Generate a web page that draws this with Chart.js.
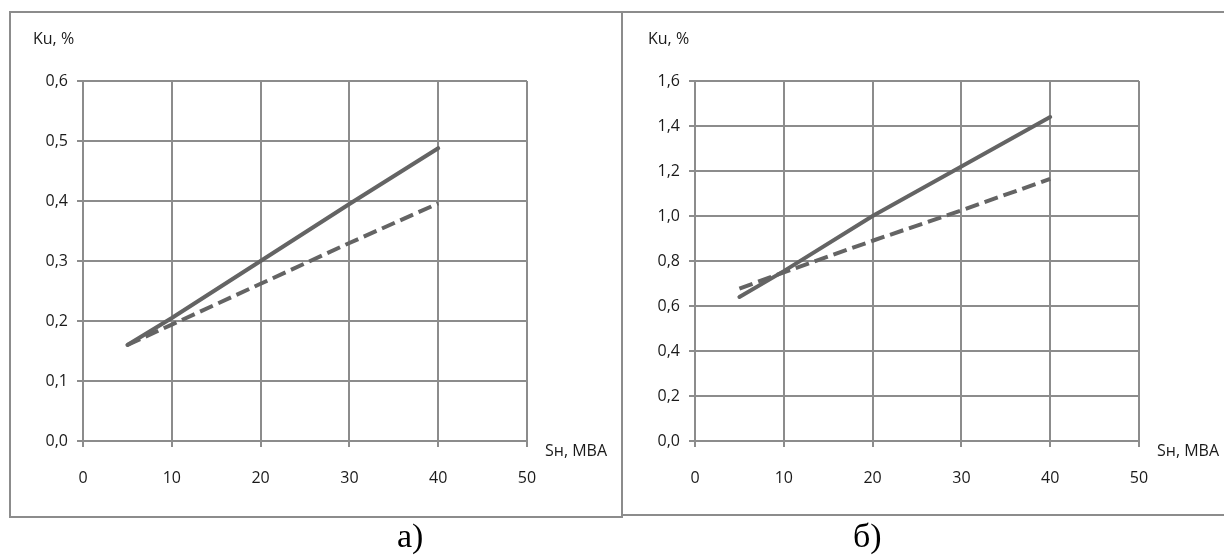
<!DOCTYPE html>
<html lang="ru">
<head>
  <meta charset="UTF-8" />
  <title>Ku(Sн)</title>
  <script src="https://cdn.jsdelivr.net/npm/chart.js"></script>
  <style>
    body {
      margin: 0;
      width: 1224px;
      height: 555px;
      background: #fff;
      position: relative;
      overflow: hidden;
      font-family: 'Open Sans', sans-serif;
    }
    .frame {
      position: absolute;
      border: 2px solid #8c8c8c;
      box-sizing: border-box;
    }
    .chart-box {
      position: absolute;
      top: 0;
      width: 612px;
      height: 555px;
    }
    .label {
      position: absolute;
      font-size: 16px;
      color: #1a1a1a;
      white-space: nowrap;
      line-height: 20px;
    }
    .caption {
      position: absolute;
      font-family: 'Liberation Serif', serif;
      font-size: 34px;
      color: #000;
      line-height: 34px;
    }
  </style>
</head>
<body>
  <div class="frame" style="left:9px; top:11px; width:614px; height:507px;"></div>
  <div class="frame" style="left:621px; top:11px; width:620px; height:505px;"></div>

  <div class="chart-box" style="left:0;"><canvas id="chartA"></canvas></div>
  <div class="chart-box" style="left:612px;"><canvas id="chartB"></canvas></div>

  <div class="label" style="left:33px; top:28px;">Ku, %</div>
  <div class="label" style="left:545px; top:440px;">Sн, МВА</div>
  <div class="label" style="left:648px; top:28px;">Ku, %</div>
  <div class="label" style="left:1157px; top:440px;">Sн, МВА</div>

  <div class="caption" style="left:397px; top:519px;">а)</div>
  <div class="caption" style="left:853px; top:519px;">б)</div>

  <script>
    // мощность нагрузки, МВА
    const loadS = [5, 10, 20, 30, 40];

    // а)
    const kuSolidA = [0.16, 0.205, 0.30, 0.395, 0.488];
    const kuDashA = [0.16, 0.194, 0.262, 0.330, 0.396];

    // б)
    const kuSolidB = [0.64, 0.755, 1.0, 1.22, 1.44];
    const kuDashB = [0.677, 0.75, 0.89, 1.025, 1.165];

    const xTicks = [0, 10, 20, 30, 40, 50];
    const yMaxA = 0.6, yStepA = 0.1;
    const yMaxB = 1.6, yStepB = 0.2;

    const lineColor = '#646464';
    const gridColor = '#8c8c8c';

    function toPoints(ys) {
      return loadS.map((x, i) => ({ x: x, y: ys[i] }));
    }

    function makeChart(id, solid, dashed, yMax, yStep) {
      const ctx = document.getElementById(id).getContext('2d');
      return new Chart(ctx, {
        type: 'line',
        data: {
          datasets: [
            {
              data: toPoints(solid),
              borderColor: lineColor,
              borderWidth: 4,
              borderCapStyle: 'round',
              pointRadius: 0,
              tension: 0
            },
            {
              data: toPoints(dashed),
              borderColor: lineColor,
              borderWidth: 4,
              borderDash: [14, 6],
              pointRadius: 0,
              tension: 0
            }
          ]
        },
        options: {
          responsive: false,
          animation: false,
          events: [],
          layout: { padding: { top: 81, right: 85, left: 0, bottom: 0 } },
          plugins: { legend: { display: false }, tooltip: { enabled: false } },
          scales: {
            x: {
              type: 'linear',
              min: xTicks[0],
              max: xTicks[xTicks.length - 1],
              afterBuildTicks: axis => { axis.ticks = xTicks.map(v => ({ value: v })); },
              afterFit: axis => { axis.height = 555 - 441; },
              grid: { color: gridColor, lineWidth: 2, tickLength: 6 },
              border: { color: gridColor, width: 2 },
              ticks: {
                color: '#1a1a1a',
                font: { family: 'Open Sans', size: 16 },
                padding: 22,
                maxRotation: 0
              }
            },
            y: {
              min: 0,
              max: yMax,
              afterFit: axis => { axis.width = 83; },
              grid: { color: gridColor, lineWidth: 2, tickLength: 6 },
              border: { color: gridColor, width: 2 },
              ticks: {
                stepSize: yStep,
                color: '#1a1a1a',
                font: { family: 'Open Sans', size: 16 },
                padding: 9,
                callback: v => v.toFixed(1).replace('.', ',')
              }
            }
          }
        }
      });
    }

    document.getElementById('chartA').width = 612;
    document.getElementById('chartA').height = 555;
    document.getElementById('chartB').width = 612;
    document.getElementById('chartB').height = 555;

    makeChart('chartA', kuSolidA, kuDashA, yMaxA, yStepA);
    makeChart('chartB', kuSolidB, kuDashB, yMaxB, yStepB);
  </script>
</body>
</html>
